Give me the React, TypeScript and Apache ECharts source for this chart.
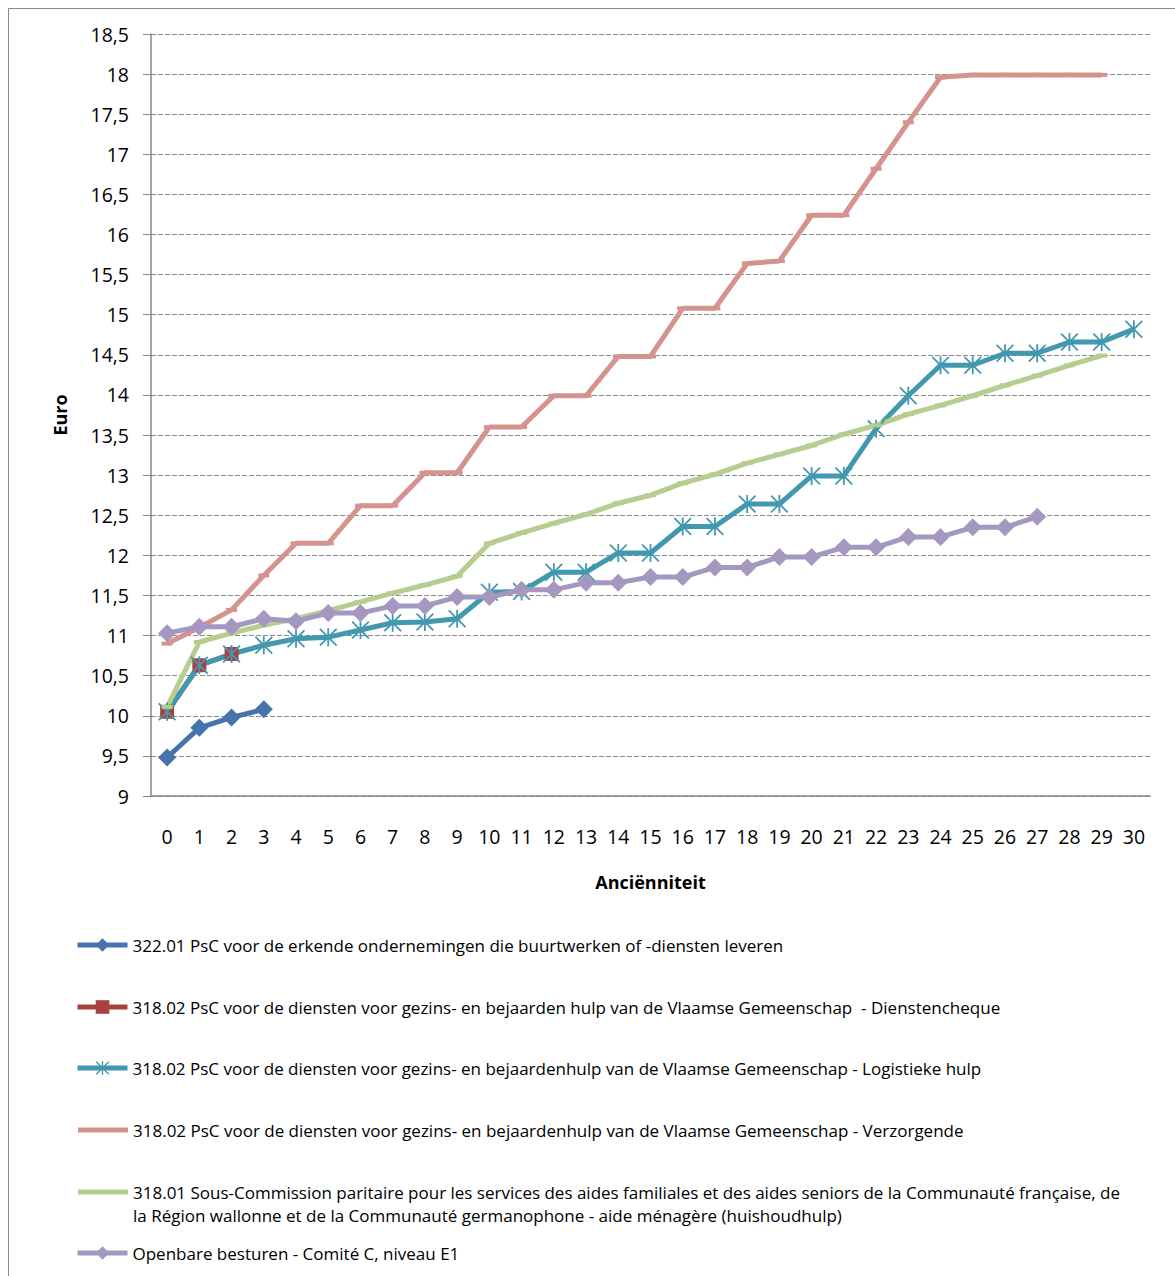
import React, { useEffect, useRef } from "react";
import * as echarts from "echarts";

const categories = ["0","1","2","3","4","5","6","7","8","9","10","11","12","13","14","15","16","17","18","19","20","21","22","23","24","25","26","27","28","29","30"];

const nameBlue = "322.01 PsC voor de erkende ondernemingen die buurtwerken of -diensten leveren";
const nameRed = "318.02 PsC voor de diensten voor gezins- en bejaarden hulp van de Vlaamse Gemeenschap  - Dienstencheque";
const nameTeal = "318.02 PsC voor de diensten voor gezins- en bejaardenhulp van de Vlaamse Gemeenschap - Logistieke hulp";
const namePink = "318.02 PsC voor de diensten voor gezins- en bejaardenhulp van de Vlaamse Gemeenschap - Verzorgende";
const nameGreen = "318.01 Sous-Commission paritaire pour les services des aides familiales et des aides seniors de la Communauté française, de la Région wallonne et de la Communauté germanophone - aide ménagère (huishoudhulp)";
const nameGreenLine1 = "318.01 Sous-Commission paritaire pour les services des aides familiales et des aides seniors de la Communauté française, de";
const nameGreenLine2 = "la Région wallonne et de la Communauté germanophone - aide ménagère (huishoudhulp)";
const namePurple = "Openbare besturen - Comité C, niveau E1";

const blueValues = [9.48, 9.85, 9.98, 10.08];
const redValues = [10.05, 10.63, 10.77];
const tealValues = [10.05, 10.63, 10.77, 10.88, 10.96, 10.98, 11.07, 11.16, 11.17, 11.21, 11.54, 11.55, 11.79, 11.79, 12.03, 12.03, 12.36, 12.36, 12.64, 12.64, 12.99, 12.99, 13.58, 13.99, 14.37, 14.37, 14.52, 14.52, 14.66, 14.66, 14.82];
const pinkValues = [10.9, 11.1, 11.32, 11.75, 12.15, 12.15, 12.62, 12.62, 13.03, 13.03, 13.6, 13.6, 13.99, 13.99, 14.48, 14.48, 15.08, 15.08, 15.64, 15.67, 16.24, 16.24, 16.82, 17.4, 17.96, 17.99, 17.99, 17.99, 17.99, 17.99];
const greenValues = [10.11, 10.92, 11.03, 11.13, 11.21, 11.31, 11.42, 11.53, 11.63, 11.74, 12.15, 12.28, 12.4, 12.51, 12.65, 12.75, 12.9, 13.01, 13.15, 13.26, 13.37, 13.51, 13.62, 13.76, 13.87, 13.99, 14.12, 14.24, 14.37, 14.49];
const purpleValues = [11.03, 11.11, 11.11, 11.21, 11.18, 11.28, 11.28, 11.37, 11.37, 11.48, 11.48, 11.57, 11.57, 11.66, 11.66, 11.73, 11.73, 11.85, 11.85, 11.98, 11.98, 12.1, 12.1, 12.23, 12.23, 12.35, 12.35, 12.48];

const FONT = "'Open Sans', 'Noto Sans', sans-serif";
const STAR = "path://M9,0 L11,0 L11,20 L9,20 Z M0,1.4 L1.4,0 L20,18.6 L18.6,20 Z M18.6,0 L20,1.4 L1.4,20 L0,18.6 Z";

function lineSeries(name: string, data: number[], color: string, symbol: string, symbolSize: any) {
  return {
    name,
    type: "line",
    data,
    symbol,
    symbolSize,
    showSymbol: true,
    lineStyle: { color, width: 5 },
    itemStyle: { color, borderWidth: 0 },
    emphasis: { disabled: true },
  };
}

function legendRow(name: string, top: number, opts: any = {}) {
  const l: any = {
    show: true,
    orient: "horizontal",
    left: opts.icon ? 78 : 75,
    top,
    padding: 0,
    data: [opts.icon ? { name, icon: opts.icon } : name],
    itemWidth: 50,
    itemHeight: opts.itemHeight ?? 17,
    itemGap: 0,
    selectedMode: false,
    lineStyle: { width: 5 },
    textStyle: { fontFamily: FONT, fontSize: 17, color: "#000", lineHeight: opts.lineHeight ?? 20 },
  };
  if (opts.formatter) l.formatter = opts.formatter;
  return l;
}

export default function App() {
  const ref = useRef<HTMLDivElement>(null);
  useEffect(() => {
    if (!ref.current) return;
    const chart = echarts.init(ref.current, undefined, { renderer: "svg" });
    const option: any = {
      animation: false,
      backgroundColor: "#ffffff",
      graphic: [
        {
          type: "rect",
          shape: { x: 8.5, y: 8.5, width: 1200, height: 1300 },
          style: { fill: "none", stroke: "#8a8a8a", lineWidth: 1 },
          silent: true,
        },
      ],
      grid: { left: 151, right: 25, top: 34, bottom: 480, containLabel: false },
      legend: [
        legendRow(nameBlue, 935),
        legendRow(nameRed, 997),
        legendRow(nameTeal, 1058),
        legendRow(namePink, 1120, { icon: "rect", itemHeight: 5 }),
        legendRow(nameGreen, 1157.5, {
          icon: "rect",
          itemHeight: 5,
          lineHeight: 23,
          formatter: () => " \n" + nameGreenLine1 + "\n" + nameGreenLine2,
        }),
        legendRow(namePurple, 1243),
      ],
      xAxis: {
        type: "category",
        data: categories,
        boundaryGap: true,
        name: "Anciënniteit",
        nameLocation: "middle",
        nameGap: 77,
        nameTextStyle: { fontFamily: FONT, fontSize: 18, fontWeight: "bold", color: "#000" },
        axisLine: { show: true, lineStyle: { color: "#868686", width: 1.5 } },
        axisTick: { show: false },
        axisLabel: { fontFamily: FONT, fontSize: 19.5, color: "#000", margin: 30, interval: 0 },
        splitLine: { show: false },
      },
      yAxis: {
        type: "value",
        min: 9,
        max: 18.5,
        interval: 0.5,
        name: "Euro",
        nameLocation: "middle",
        nameGap: 82,
        nameTextStyle: { fontFamily: FONT, fontSize: 18, fontWeight: "bold", color: "#000" },
        axisLine: { show: true, lineStyle: { color: "#868686", width: 1.5 } },
        axisTick: { show: true, length: 8, lineStyle: { color: "#868686" } },
        axisLabel: {
          fontFamily: FONT,
          fontSize: 19.5,
          color: "#000",
          margin: 22,
          formatter: (v: number) => String(v).replace(".", ","),
        },
        splitLine: { show: true, lineStyle: { color: "#8a8a8a", width: 1, type: [5, 2] } },
      },
      series: [
        lineSeries(nameBlue, blueValues, "#4573AC", "diamond", 18),
        lineSeries(nameRed, redValues, "#A9423F", "rect", 14),
        lineSeries(nameTeal, tealValues, "#4198AF", STAR, 18),
        lineSeries(namePink, pinkValues, "#D59390", "rect", [11, 4]),
        lineSeries(nameGreen, greenValues, "#B7CD8F", "rect", [11, 4]),
        lineSeries(namePurple, purpleValues, "#A498C1", "diamond", 18),
      ],
    };
    chart.setOption(option);
    return () => chart.dispose();
  }, []);
  return (
    <div
      ref={ref}
      style={{ position: "fixed", left: 0, top: 0, width: 1175, height: 1276, background: "#fff" }}
    />
  );
}
